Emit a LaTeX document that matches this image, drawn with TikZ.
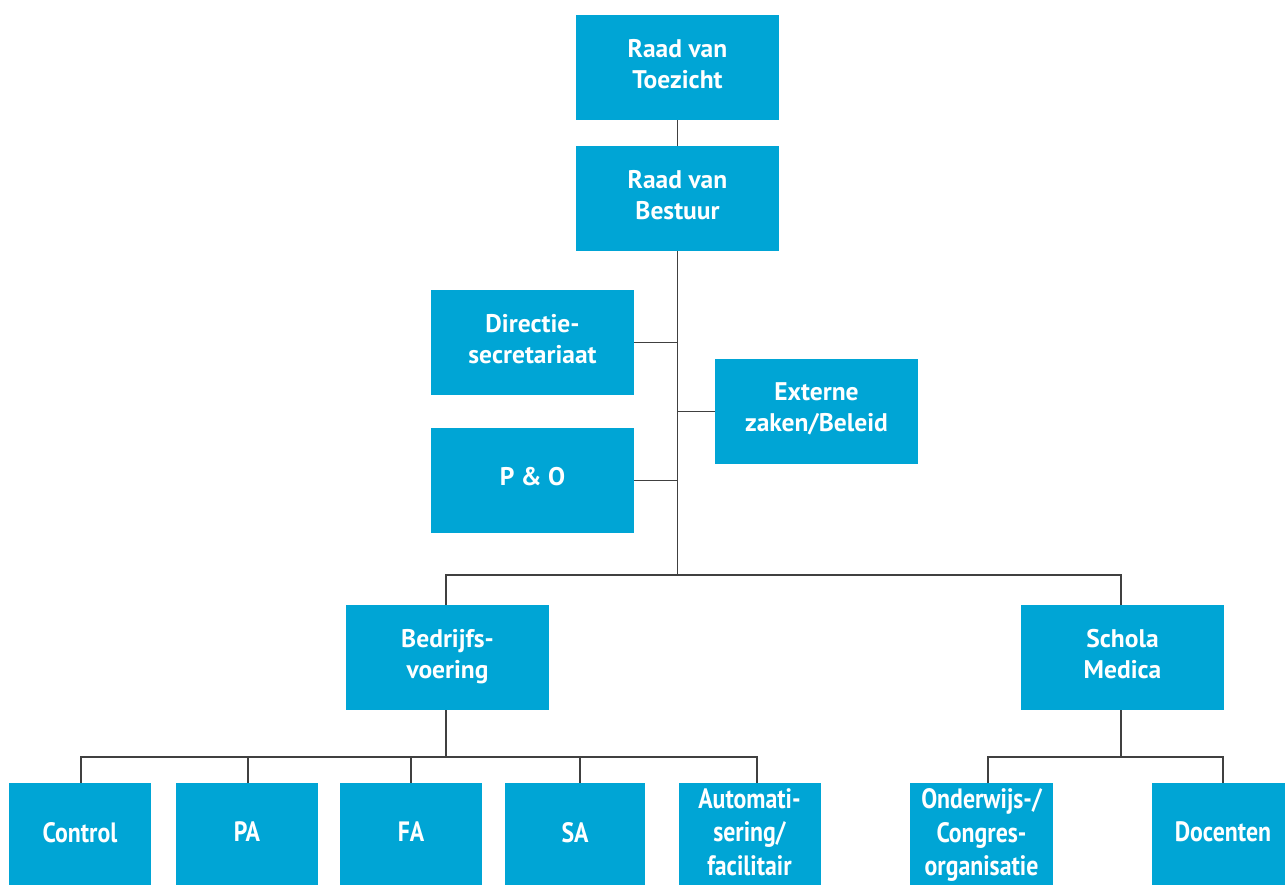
\documentclass[tikz,border=0pt]{standalone}
\usepackage{fontspec}
\setmainfont{PT Sans}
\newfontfamily\condfont[FakeStretch=0.85]{PT Sans}
\definecolor{boxblue}{RGB}{0,165,213}
\definecolor{linegray}{RGB}{64,64,64}
\tikzset{
  orgbox/.style={fill=boxblue, minimum width=203pt, minimum height=105pt, inner sep=0pt,
    text=white, align=center, text depth=8pt, font=\bfseries\fontsize{25.5}{31}\selectfont},
  leafbox/.style={orgbox, minimum width=142pt, text depth=7pt, font=\condfont\bfseries\fontsize{28}{33.5}\selectfont},
  conn/.style={draw=linegray, line width=1.5pt}
}
\begin{document}
\begin{tikzpicture}[x=1pt, y=-1pt]
\useasboundingbox (0,0) rectangle (1285,885);
\node[orgbox] (rvt) at (677.5,67.5) {Raad van\\Toezicht};
\node[orgbox] (rvb) at (677.5,198.5) {Raad van\\Bestuur};
\node[orgbox] (dir) at (532.5,342.5) {Directie-\\secretariaat};
\node[orgbox] (ext) at (816.5,411.5) {Externe\\zaken/Beleid};
\node[orgbox] (po)  at (532.5,480.5) {P \& O};
\node[orgbox] (bed) at (447.5,657.5) {Bedrijfs-\\voering};
\node[orgbox] (sch) at (1122.5,657.5) {Schola\\Medica};
\node[leafbox] (ctl) at (80,835.5) {Control};
\node[leafbox] (pa)  at (247,835.5) {PA};
\node[leafbox] (fa)  at (411,835.5) {FA};
\node[leafbox, minimum width=140pt] (sa)  at (575,835.5) {SA};
\node[leafbox] (aut) at (749.5,835.5) {Automati-\\sering/\\facilitair};
\node[leafbox, minimum width=143pt] (ond) at (981.5,835.5) {Onderwijs-/\\Congres-\\organisatie};
\node[leafbox] (doc) at (1223,835.5) {Docenten};
\coordinate (j1) at (677.5,575);
\coordinate (b2) at (446,757);
\coordinate (s2) at (1121,757);
\draw[conn] (rvt.south) -- (rvb.south |- rvb.north);
\draw[conn] (rvb.south) -- (j1);
\draw[conn] (dir.east) -- (dir.east -| j1);
\draw[conn] (po.east) -- (po.east -| j1);
\draw[conn] (ext.west) -- (ext.west -| j1);
\draw[conn] (bed.north -| b2) |- (j1) -| (sch.north -| s2);
\draw[conn] (bed.south -| b2) -- (b2);
\draw[conn] (b2) -| ([xshift=1pt]ctl.north);
\draw[conn] (b2) -| ([xshift=1pt]pa.north);
\draw[conn] (b2) -| (fa.north);
\draw[conn] (b2) -| ([xshift=5pt]sa.north);
\draw[conn] (b2) -| ([xshift=7.5pt]aut.north);
\draw[conn] (sch.south -| s2) -- (s2);
\draw[conn] (s2) -| ([xshift=6.5pt]ond.north);
\draw[conn] (s2) -| (doc.north);
\end{tikzpicture}
\end{document}
